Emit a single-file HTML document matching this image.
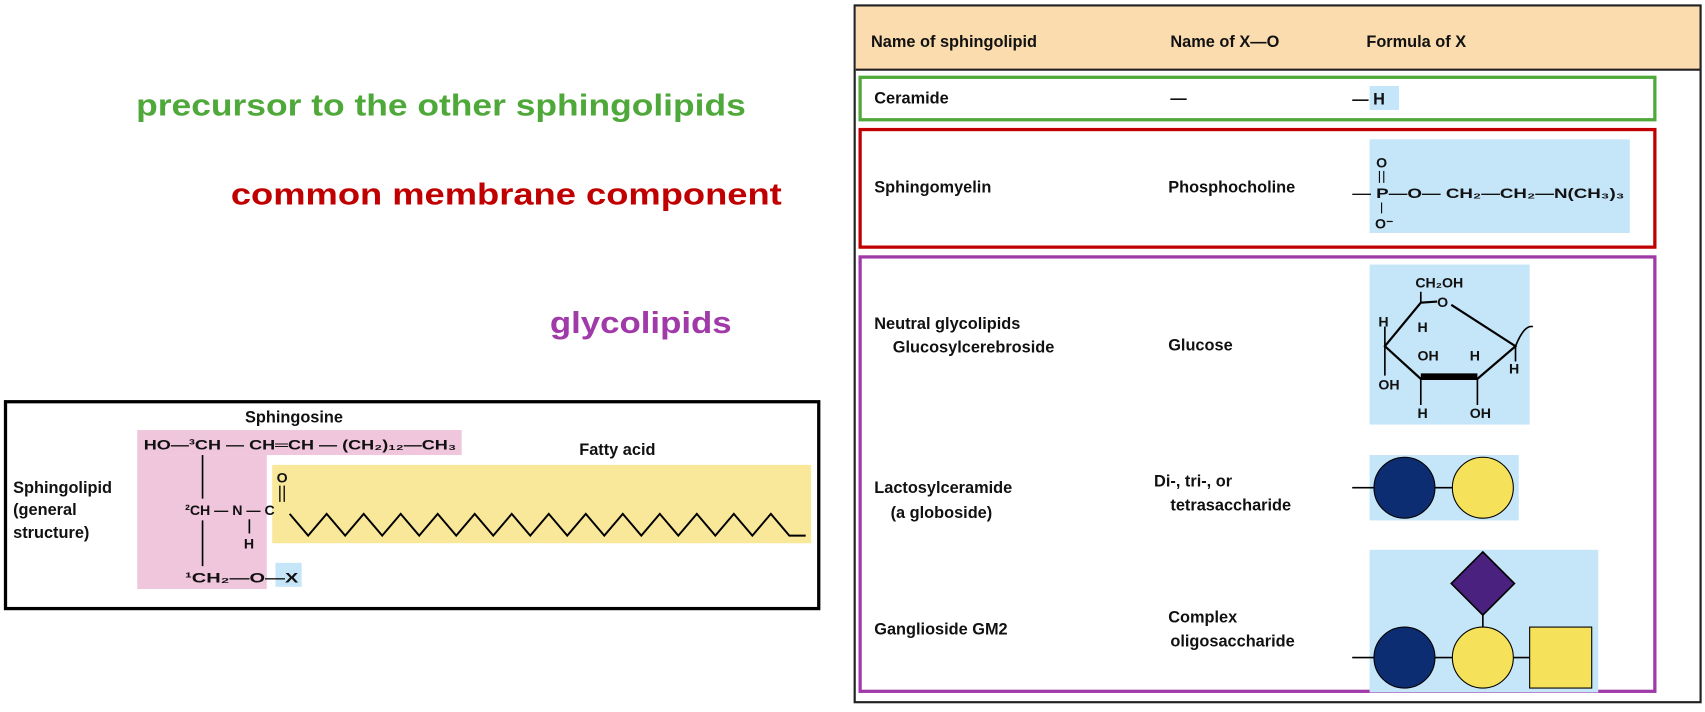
<!DOCTYPE html>
<html><head><meta charset="utf-8"><style>
html,body{margin:0;padding:0;background:#fff;width:1705px;height:712px;overflow:hidden}
svg{display:block}
text{font-family:"Liberation Sans",sans-serif;font-weight:bold;fill:#111}
.t{font-size:15px}
.s{font-size:13px}
</style></head><body>
<svg width="1705" height="712" viewBox="0 0 1566 654">
<text x="125" y="106" textLength="560" lengthAdjust="spacingAndGlyphs" style="font-size:28px;fill:#4fa83a">precursor to the other sphingolipids</text>
<text x="212" y="188" textLength="506" lengthAdjust="spacingAndGlyphs" style="font-size:28px;fill:#c00000">common membrane component</text>
<text x="505" y="306" textLength="167" lengthAdjust="spacingAndGlyphs" style="font-size:28px;fill:#a03aa8">glycolipids</text>

<g>
<rect x="5" y="369" width="747" height="190" fill="#fff" stroke="#000" stroke-width="3"/>
<rect x="126" y="395" width="298" height="23" fill="#efc6dc"/>
<rect x="126" y="418" width="119" height="123" fill="#efc6dc"/>
<rect x="250" y="427" width="495" height="72" fill="#f9e79a"/>
<rect x="253" y="517" width="24" height="22" fill="#c5e5f8"/>
<text x="225" y="388" class="t">Sphingosine</text>
<text x="532" y="418" class="t">Fatty acid</text>
<text x="12" y="453" class="t">Sphingolipid</text>
<text x="12" y="473" class="t">(general</text>
<text x="12" y="494" class="t">structure)</text>
<text x="132" y="413" class="s" textLength="287" lengthAdjust="spacingAndGlyphs">HO—³CH — CH═CH — (CH₂)₁₂—CH₃</text>
<line x1="186" y1="418" x2="186" y2="458" stroke="#000" stroke-width="1.5"/>
<text x="170" y="473" class="s">²CH — N — C</text>
<text x="254" y="443" class="s">O</text>
<line x1="257" y1="446" x2="257" y2="461" stroke="#000" stroke-width="1.2"/>
<line x1="261" y1="446" x2="261" y2="461" stroke="#000" stroke-width="1.2"/>
<line x1="229" y1="477" x2="229" y2="490" stroke="#000" stroke-width="1.5"/>
<text x="224" y="504" class="s">H</text>
<line x1="186" y1="478" x2="186" y2="520" stroke="#000" stroke-width="1.5"/>
<text x="170" y="535" class="s" textLength="104" lengthAdjust="spacingAndGlyphs">¹CH₂—O—X</text>
<polyline fill="none" stroke="#000" stroke-width="1.8" points="266,472 283,492 300,472 317,492 334,472 351,492 368,472 385,492 402,472 419,492 436,472 453,492 470,472 487,492 504,472 521,492 538,472 555,492 572,472 589,492 606,472 623,492 640,472 657,492 674,472 691,492 708,472 725,492 740,492"/>
</g>

<g>
<rect x="785" y="5" width="777" height="640" fill="#fff" stroke="#222" stroke-width="2"/>
<rect x="786" y="6" width="775" height="58" fill="#fadcae"/>
<line x1="786" y1="64" x2="1561" y2="64" stroke="#222" stroke-width="2"/>
<text x="800" y="43" class="t">Name of sphingolipid</text>
<text x="1075" y="43" class="t">Name of X—O</text>
<text x="1255" y="43" class="t">Formula of X</text>

<rect x="790" y="71" width="730" height="39" fill="none" stroke="#4fa83a" stroke-width="3"/>
<text x="803" y="95" class="t">Ceramide</text>
<text x="1075" y="95" class="t">—</text>
<rect x="1258" y="79" width="27" height="22" fill="#c5e5f8"/>
<text x="1242" y="96" class="t">— H</text>

<rect x="790" y="119" width="730" height="108" fill="none" stroke="#c00000" stroke-width="3"/>
<text x="803" y="177" class="t">Sphingomyelin</text>
<text x="1073" y="177" class="t">Phosphocholine</text>
<rect x="1258" y="128" width="239" height="86" fill="#c5e5f8"/>
<text x="1242" y="182" class="s" textLength="250" lengthAdjust="spacingAndGlyphs">—  P—O— CH₂—CH₂—N(CH₃)₃</text>
<text x="1264" y="154" class="s">O</text>
<line x1="1267" y1="157" x2="1267" y2="168" stroke="#000"/><line x1="1271" y1="157" x2="1271" y2="168" stroke="#000"/>
<line x1="1269" y1="186" x2="1269" y2="196" stroke="#000"/>
<text x="1263" y="210" class="s">O⁻</text>

<rect x="790" y="236" width="730" height="399" fill="none" stroke="#a03aa8" stroke-width="3"/>
<text x="803" y="302" class="t">Neutral glycolipids</text>
<text x="820" y="324" class="t">Glucosylcerebroside</text>
<text x="1073" y="322" class="t">Glucose</text>
<rect x="1258" y="243" width="147" height="147" fill="#c5e5f8"/>
<text x="1300" y="264" class="s">CH₂OH</text>
<text x="1320" y="282" class="s">O</text>
<line x1="1305" y1="268" x2="1305" y2="278" stroke="#000" stroke-width="1.5"/>
<polyline fill="none" stroke="#000" stroke-width="2" points="1320,277 1305,278 1272,318 1305,348 1357,348 1392,318 1333,280"/>
<line x1="1305" y1="346" x2="1357" y2="346" stroke="#000" stroke-width="6"/>
<line x1="1272" y1="300" x2="1272" y2="345" stroke="#000" stroke-width="1.5"/>
<line x1="1392" y1="318" x2="1392" y2="332" stroke="#000" stroke-width="1.5"/>
<line x1="1305" y1="348" x2="1305" y2="372" stroke="#000" stroke-width="1.5"/>
<line x1="1357" y1="348" x2="1357" y2="372" stroke="#000" stroke-width="1.5"/>
<path d="M1392,318 q8,-20 16,-18" fill="none" stroke="#000" stroke-width="1.5"/>
<text x="1266" y="300" class="s">H</text><text x="1302" y="305" class="s">H</text>
<text x="1302" y="331" class="s">OH</text><text x="1350" y="331" class="s">H</text><text x="1386" y="343" class="s">H</text>
<text x="1266" y="358" class="s">OH</text><text x="1302" y="384" class="s">H</text><text x="1350" y="384" class="s">OH</text>

<text x="803" y="453" class="t">Lactosylceramide</text>
<text x="818" y="476" class="t">(a globoside)</text>
<text x="1060" y="447" class="t">Di-, tri-, or</text>
<text x="1075" y="469" class="t">tetrasaccharide</text>
<rect x="1258" y="418" width="137" height="60" fill="#c5e5f8"/>
<line x1="1242" y1="448" x2="1362" y2="448" stroke="#000" stroke-width="1.5"/>
<circle cx="1290" cy="448" r="28" fill="#0d2d73" stroke="#000"/>
<circle cx="1362" cy="448" r="28" fill="#f6e15a" stroke="#000"/>

<text x="803" y="583" class="t">Ganglioside GM2</text>
<text x="1073" y="572" class="t">Complex</text>
<text x="1075" y="594" class="t">oligosaccharide</text>
<rect x="1258" y="505" width="210" height="131" fill="#c5e5f8"/>
<line x1="1242" y1="604" x2="1410" y2="604" stroke="#000" stroke-width="1.5"/>
<line x1="1362" y1="560" x2="1362" y2="580" stroke="#000" stroke-width="1.5"/>
<polygon points="1362,507 1391,536 1362,565 1333,536" fill="#4b2180" stroke="#000" stroke-width="1.5"/>
<circle cx="1290" cy="604" r="28" fill="#0d2d73" stroke="#000"/>
<circle cx="1362" cy="604" r="28" fill="#f6e15a" stroke="#000"/>
<rect x="1405" y="576" width="57" height="56" fill="#f6e15a" stroke="#000"/>
</g>
</svg>
</body></html>
